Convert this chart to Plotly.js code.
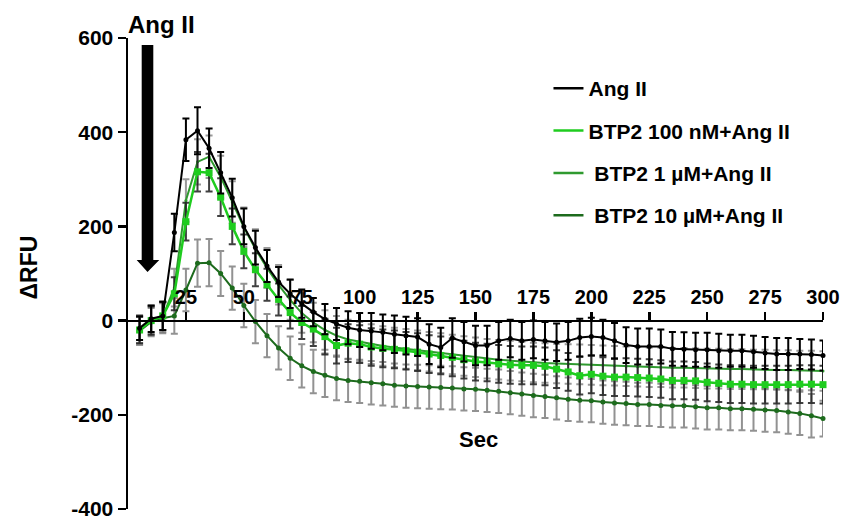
<!DOCTYPE html>
<html>
<head>
<meta charset="utf-8">
<script src="https://cdn.plot.ly/plotly-3.0.1.min.js"></script>
<style>html,body{margin:0;padding:0;background:#fff;}#chart{width:841px;height:522px;}</style>
</head>
<body>
<div id="chart"></div>
<script>
// ---- data ----
const timeSec = [5,10,15,20,25,30,35,40,45,50,55,60,65,70,75,80,85,90,95,100,
  105,110,115,120,125,130,135,140,145,150,155,160,165,170,175,180,185,190,195,200,
  205,210,215,220,225,230,235,240,245,250,255,260,265,270,275,280,285,290,295,300];

const seriesNames = ["Ang II", "BTP2 100 nM+Ang II", " BTP2 1 \u00b5M+Ang II", " BTP2 10 \u00b5M+Ang II"];

const angII = [-16,4,10,187,384,403,366,314,261,200,155,116,82,57,36,18,3,-7,-15,-20,
  -22,-25,-29,-32,-35,-50,-57,-37,-45,-53,-53,-43,-38,-43,-40,-43,-46,-43,-36,-34,
  -36,-43,-52,-55,-55,-55,-60,-61,-62,-62,-64,-64,-64,-66,-69,-71,-71,-71,-72,-74];
const angIIErr = [25,28,30,40,45,50,42,44,40,38,36,34,32,30,30,30,32,34,35,36,
  38,38,40,40,40,42,42,42,42,42,42,40,40,40,40,40,40,40,40,40,
  38,38,38,38,38,36,36,36,36,36,36,34,34,34,34,34,34,32,32,32];

const btp100nM = [-20,0,10,57,210,316,314,262,200,147,108,76,45,17,-4,-18,-34,-53,-48,-50,
  -56,-59,-61,-64,-67,-71,-74,-78,-83,-87,-89,-92,-94,-95,-95,-97,-103,-109,-117,-114,
  -118,-120,-120,-121,-122,-124,-127,-127,-128,-131,-133,-135,-135,-136,-136,-136,-136,-135,-135,-136];
const btp100nMErr = [28,30,30,35,40,42,40,40,38,36,35,34,34,34,35,36,38,38,40,40,
  40,40,40,40,40,40,40,40,40,40,40,40,40,40,40,40,40,40,40,40,
  40,40,40,40,40,40,40,40,40,40,40,40,40,40,40,40,40,40,40,40];

const btp1uM = [-18,2,8,70,255,337,348,305,252,198,152,112,76,44,16,-4,-20,-32,-40,-45,
  -50,-54,-57,-60,-63,-66,-69,-72,-75,-78,-81,-83,-85,-87,-89,-90,-91,-92,-93,-94,
  -95,-96,-97,-98,-99,-99,-100,-100,-101,-102,-102,-103,-103,-104,-104,-105,-105,-106,-106,-107];
const btp1uMErr = [30,30,32,40,45,48,45,45,44,42,42,42,42,42,42,42,42,42,42,42,
  42,42,42,42,42,42,42,42,42,42,42,42,42,42,42,42,42,42,42,42,
  42,42,42,42,42,42,42,42,42,42,42,42,42,42,42,42,42,42,42,42];

const btp10uM = [-22,-3,5,10,65,122,123,100,69,32,-2,-32,-58,-80,-96,-108,-116,-123,-127,-129,
  -132,-134,-137,-139,-140,-141,-142,-143,-145,-146,-148,-150,-153,-156,-159,-161,-164,-167,-169,-170,
  -173,-175,-176,-178,-178,-180,-181,-181,-183,-185,-185,-187,-187,-188,-190,-191,-194,-197,-202,-208];
const btp10uMErr = [30,30,32,38,45,50,50,48,46,46,46,46,46,46,46,46,46,46,46,46,
  46,46,46,46,46,46,46,46,46,46,46,46,46,46,46,46,46,46,46,46,
  46,46,46,46,46,46,46,46,46,46,46,46,46,46,46,46,46,46,46,38];

const yTicks = [-400,-200,0,200,400,600];
const xTicks = [25,50,75,100,125,150,175,200,225,250,275,300];

// ---- styles ----
const colors = ["#000000", "#1fcc1f", "#2f9a2f", "#1d6b1d"];
const FONT = "Liberation Sans, Arial, Helvetica, sans-serif";

function dataTrace(y, err, color, errColor, msym, msize, lw) {
  return {
    x: timeSec, y: y, type: "scatter", mode: "lines+markers",
    showlegend: false, cliponaxis: false,
    line: {color: color, width: lw},
    marker: {color: color, size: msize, symbol: msym},
    error_y: {type: "data", array: err, visible: true, color: errColor, thickness: 2, width: 3.5}
  };
}

const traces = [
  dataTrace(btp10uM, btp10uMErr, colors[3], "rgba(110,110,110,0.75)", "circle", 5, 2),
  dataTrace(btp1uM, btp1uMErr, colors[2], "rgba(120,120,120,0.75)", "circle", 3, 2),
  dataTrace(btp100nM, btp100nMErr, colors[1], "rgba(30,30,30,0.85)", "square", 7, 2.5),
  dataTrace(angII, angIIErr, colors[0], "#000000", "circle", 5, 2)
];
// legend entries (lines only)
seriesNames.forEach((n, i) => {
  traces.push({x: [null], y: [null], type: "scatter", mode: "lines", name: n,
    legendgroup: "g" + i, line: {color: colors[i], width: 2.5}});
});

const layout = {
  width: 841, height: 522,
  margin: {l: 128, r: 18, t: 38, b: 13},
  paper_bgcolor: "#ffffff", plot_bgcolor: "#ffffff",
  font: {family: FONT, color: "#000", size: 20, weight: 700},
  showlegend: true,
  legend: {x: 0.605, y: 0.936, xanchor: "left", yanchor: "top",
    font: {family: FONT, size: 21, weight: 700, color: "#000"},
    tracegroupgap: 12, itemwidth: 30, bgcolor: "rgba(0,0,0,0)"},
  xaxis: {range: [0, 300], anchor: "free", position: 0.4, side: "top",
    showline: true, linecolor: "#000", linewidth: 2.5,
    ticks: "outside", ticklen: 8, tickwidth: 2.5, tickcolor: "#000",
    tickvals: xTicks, ticktext: xTicks.map(String),
    tickfont: {family: FONT, size: 20, weight: 700, color: "#000"},
    ticklabeloverflow: "allow",
    showgrid: false, zeroline: false, automargin: false},
  yaxis: {range: [-400, 600], showline: true, linecolor: "#000", linewidth: 2.5,
    ticks: "outside", ticklen: 8, tickwidth: 2.5, tickcolor: "#000",
    tickvals: yTicks, ticktext: yTicks.map(String),
    tickfont: {family: FONT, size: 21, weight: 700, color: "#000"},
    ticklabeloverflow: "allow",
    showgrid: false, zeroline: false, automargin: false},
  annotations: [
    {text: "Ang II", xref: "paper", yref: "paper", x: 0.0475, y: 1.0297,
      xanchor: "center", yanchor: "middle", showarrow: false,
      font: {family: FONT, size: 24, weight: 700, color: "#000"}},
    {text: "Sec", xref: "paper", yref: "paper", x: 0.5036, y: 0.1465,
      xanchor: "center", yanchor: "middle", showarrow: false,
      font: {family: FONT, size: 22, weight: 700, color: "#000"}},
    {text: "\u0394RFU", xref: "paper", yref: "paper", x: -0.143, y: 0.512,
      xanchor: "center", yanchor: "middle", showarrow: false, textangle: -90,
      font: {family: FONT, size: 23, weight: 700, color: "#000"}}
  ],
  shapes: [
    {type: "path", xref: "paper", yref: "paper",
      path: "M 0.0197 0.9851 L 0.0364 0.9851 L 0.0364 0.5287 L 0.0450 0.5287 L 0.0281 0.5032 L 0.0125 0.5287 L 0.0197 0.5287 Z",
      fillcolor: "#000", line: {width: 0}}
  ]
};

Plotly.newPlot("chart", traces, layout, {staticPlot: true});
</script>
</body>
</html>
